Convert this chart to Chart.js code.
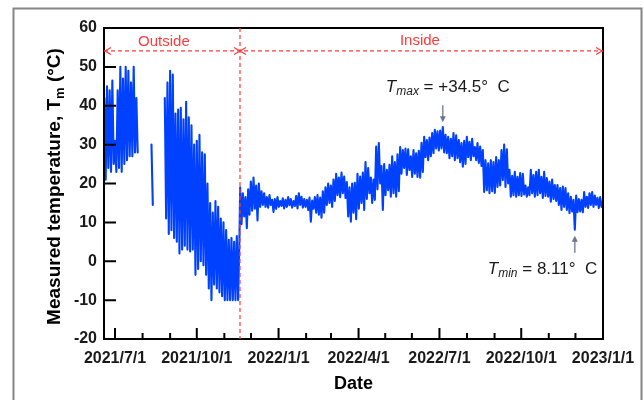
<!DOCTYPE html>
<html>
<head>
<meta charset="utf-8">
<script src="https://cdn.jsdelivr.net/npm/chart.js@4.4.0/dist/chart.umd.min.js"></script>
<style>
html,body{margin:0;padding:0;background:#fff;}
canvas{display:block;}
</style>
</head>
<body>
<canvas id="chart" width="644" height="400"></canvas>
<script>
// day numbers are counted from 2021/7/1 (= day 0)
const quarterDays = [0,92,184,274,365,457,549];
const quarterLabels = ['2021/7/1','2021/10/1','2022/1/1','2022/4/1','2022/7/1','2022/10/1','2023/1/1'];
const monthDays = [31,62,123,153,215,243,304,334,396,427,488,518];
const yTicks = [-20,-10,0,10,20,30,40,50,60];

// readings alternate high / low, one every 1.5 days
const stepDays = 1.5;
const outsideAStart = -12;
const outsideA = [42,21,45,24,44,23,46.5,25,31,23,44,24,50,23,47,25,50,26,49,27,46,27,50,28,42,28];
const spikeStart = 41;
const outsideSpike = [30,14.5];
const outsideBStart = 56;
const outsideB = [42,11,46,7,49,8,48,6,38,5,39,2,39.5,3,36.5,4,41,3,37,2.5,35,3,30,-3.5,31,-2,32.5,0,28,-1,
  27.5,-3.5,20,-7,15,-10,12.5,-6,15.5,-7,14,-8,11,-9,10,-10,8,-10,5.5,-10,6,-10,5,-10,6.5,-10,6];
const boundaryDay = 140.6; // sensor moved inside
const insideStart = 140.8;
const inside = [
  19,9.5, 17.5,11.5, 16.5,8.5, 18.5,12, 20.5,13, 21.5,13.5, 19.5,10.5, 20,14, 18,14.5, 17.5,14,
  16.5,13.8, 17,14.5, 15.8,12.7, 16,13.5, 16.5,14, 15.5,14.2, 16.2,13.6, 15.8,14, 16.5,14.4, 16,13.8,
  15.5,14.2, 16.8,13.6, 17.5,14.5, 16.6,13.8, 16,14, 15.8,13.2, 16.4,10.2, 15.6,13.5, 16.5,12.5, 17,12,
  16.4,11.2, 18,12.5, 19,14.5, 20,15, 19.5,14, 21,15.5, 22.5,17, 21.5,16.5, 22.8,17.5, 21.8,16.3,
  20.4,11.5, 19,10.2, 20,12.5, 20.2,10.8, 22.5,13.5, 21.8,15, 22.8,13.2, 25.5,16, 24,17.5, 21.5,15,
  21,15.8, 29.5,18.5, 30.4,20, 24.5,13.2, 25,17, 23.5,18.3, 24.8,16.6, 27,17.5, 25.5,16.6, 27.5,18,
  29.4,22.5, 28.6,24, 29,22.2, 28.8,23.5, 27,21.7, 28.6,22.5, 27.8,21.7, 28.4,21.5, 30.5,23, 32,26.8,
  31.2,26, 31.8,27, 33,27.8, 33.8,29, 33.4,28.5, 33.6,29, 34.5,28, 32.5,27.8, 32,26.5, 31.5,27,
  33,26, 32.4,26.5, 31.2,25.5, 30.4,24.3, 31,25, 32,26.8, 30.7,26, 31.5,27, 29.4,26, 30.4,25.3,
  29.5,24.5, 28.6,17.8, 26,18.3, 25.2,17.5, 26,18, 25.5,17.6, 26.8,19.1, 26,19.5, 28.6,20.9, 30,19.1,
  28.8,20, 23.5,16.6, 22,17, 23,16.6, 21.7,17, 22.7,16.8, 22.5,17.2, 19.5,16.6, 19,17, 23.5,17.5,
  22.2,16.6, 23,17, 23.5,17.5, 21.7,16.3, 23,16.8, 21.4,16.6, 20.5,15.3, 21,16, 19.6,15.5, 19.6,14.5,
  18.8,13.2, 19.2,14, 18.8,13.2, 17.5,12.4, 16.6,12.8, 15.8,8.1, 16.9,12.6, 16,12.8, 15.8,12.6, 17.8,14,
  16.6,13.7, 17.5,14.5, 17.8,14, 16.9,14.5, 16.3,13.7, 16.5,14, 15.5,14
];

document.addEventListener('DOMContentLoaded',()=>{

function toPoints(start, vals){
  return vals.map((v,i)=>({x:start+i*stepDays, y:v}));
}

const points = [].concat(
  toPoints(outsideAStart,outsideA), [{x:26.5,y:null}],
  toPoints(spikeStart,outsideSpike), [{x:43,y:null}],
  toPoints(outsideBStart,outsideB),
  toPoints(insideStart,inside)
);

const iMax = inside.indexOf(Math.max(...inside));
const iMin = inside.indexOf(Math.min(...inside));

const FONT = '"Liberation Sans", Arial, sans-serif';
const RED = '#ff3a3a';

function chevron(ctx, x, y, dir){
  ctx.beginPath();
  ctx.moveTo(x-dir*6, y-3.5); ctx.lineTo(x, y); ctx.lineTo(x-dir*6, y+3.5);
  ctx.stroke();
}

function arrow(ctx, x, y0, y1){ // tail y0, tip y1
  const dir = y1>y0 ? 1 : -1;
  ctx.beginPath(); ctx.moveTo(x,y0); ctx.lineTo(x,y1-dir*4); ctx.stroke();
  ctx.beginPath(); ctx.moveTo(x,y1); ctx.lineTo(x-3,y1-dir*6); ctx.lineTo(x+3,y1-dir*6); ctx.closePath(); ctx.fill();
}

function subText(ctx, x, y, main, sub, rest, size){
  ctx.font = 'italic '+size+'px '+FONT;
  ctx.fillText(main, x, y); x += ctx.measureText(main).width;
  ctx.font = 'italic '+Math.round(size*0.68)+'px '+FONT;
  ctx.fillText(sub, x, y+3); x += ctx.measureText(sub).width;
  ctx.font = size+'px '+FONT;
  ctx.fillText(rest, x, y);
}

const decor = {
  id:'decor',
  beforeDraw(chart){
    const ctx = chart.ctx;
    ctx.save(); ctx.fillStyle='#fff'; ctx.fillRect(0,0,chart.width,chart.height); ctx.restore();
  },
  afterDraw(chart){
    const {ctx, chartArea:a, scales:{x,y}} = chart;
    ctx.save();
    // plot box
    ctx.strokeStyle='#000'; ctx.lineWidth=2;
    ctx.strokeRect(a.left, a.top, a.right-a.left, a.bottom-a.top);
    // inward ticks
    ctx.beginPath();
    yTicks.forEach(v=>{ const py=y.getPixelForValue(v); ctx.moveTo(a.left,py); ctx.lineTo(a.left+12,py); });
    quarterDays.forEach(d=>{ const px=x.getPixelForValue(d); ctx.moveTo(px,a.bottom); ctx.lineTo(px,a.bottom-11); });
    monthDays.forEach(d=>{ const px=x.getPixelForValue(d); ctx.moveTo(px,a.bottom); ctx.lineTo(px,a.bottom-6); });
    ctx.stroke();

    // outside / inside marker
    const bx = x.getPixelForValue(boundaryDay);
    const ay = y.getPixelForValue(54.1);
    ctx.strokeStyle=RED; ctx.lineWidth=1.2; ctx.setLineDash([4,3]);
    ctx.beginPath(); ctx.moveTo(bx,a.top); ctx.lineTo(bx,a.bottom); ctx.stroke();
    ctx.beginPath(); ctx.moveTo(a.left,ay); ctx.lineTo(a.right,ay); ctx.stroke();
    ctx.setLineDash([]);
    chevron(ctx, a.left+1, ay, -1);
    chevron(ctx, bx, ay, 1);
    chevron(ctx, bx, ay, -1);
    chevron(ctx, a.right-1, ay, 1);
    ctx.fillStyle=RED; ctx.font='15px '+FONT; ctx.textAlign='center'; ctx.textBaseline='alphabetic';
    ctx.fillText('Outside', x.getPixelForValue(55), ay-5);
    ctx.fillText('Inside', x.getPixelForValue(343), ay-6);

    // Tmax / Tmin notes
    ctx.fillStyle='#6b7590'; ctx.strokeStyle='#6b7590'; ctx.lineWidth=1.3;
    const mx = x.getPixelForValue(insideStart+iMax*stepDays), my = y.getPixelForValue(inside[iMax]);
    arrow(ctx, mx, my-22, my-5);
    const nx = x.getPixelForValue(insideStart+iMin*stepDays), ny = y.getPixelForValue(inside[iMin]);
    arrow(ctx, nx, ny+23, ny+6);
    ctx.fillStyle='#1a1a1a'; ctx.textAlign='left';
    subText(ctx, mx-57, my-35, 'T', 'max', ' = +34.5\u00b0  C', 17);
    subText(ctx, nx-87, ny+44, 'T', 'min', ' = 8.11\u00b0  C', 17);

    // axis titles
    ctx.fillStyle='#000';
    ctx.font='bold 18px '+FONT; ctx.textAlign='center';
    ctx.fillText('Date', (a.left+a.right)/2, 389);
    ctx.save();
    ctx.translate(60, 186.5); ctx.rotate(-Math.PI/2);
    const p1='Measured temperature, T', p2='m', p3=' (\u00b0C)';
    ctx.font='bold 19px '+FONT; const w1=ctx.measureText(p1).width, w3=ctx.measureText(p3).width;
    ctx.font='bold 13px '+FONT; const w2=ctx.measureText(p2).width;
    let tx = -(w1+w2+w3)/2;
    ctx.textAlign='left';
    ctx.font='bold 19px '+FONT; ctx.fillText(p1, tx, 0); tx+=w1;
    ctx.font='bold 13px '+FONT; ctx.fillText(p2, tx, 4); tx+=w2;
    ctx.font='bold 19px '+FONT; ctx.fillText(p3, tx, 0);
    ctx.restore();

    // outer frame
    ctx.strokeStyle='#858585'; ctx.lineWidth=2;
    ctx.strokeRect(13.5, 8.5, 628, 400);
    ctx.restore();
  }
};

new Chart(document.getElementById('chart'), {
  type:'line',
  data:{datasets:[{data:points, borderColor:'#0040ff', borderWidth:2.1, borderJoinStyle:'round', borderCapStyle:'round',
    pointRadius:0, tension:0, spanGaps:false}]},
  options:{
    responsive:false, animation:false,
    layout:{padding:{top:28, right:41, left:0, bottom:0}},
    plugins:{legend:{display:false}, tooltip:{enabled:false}},
    scales:{
      x:{
        type:'linear', min:-12.4, max:549,
        grid:{display:false, drawTicks:false}, border:{display:false},
        afterBuildTicks:s=>{ s.ticks = quarterDays.map(v=>({value:v})); },
        afterFit:s=>{ s.height=61; s.paddingLeft=0; s.paddingRight=0; },
        ticks:{autoSkip:false, maxRotation:0, padding:10, color:'#1a1a1a',
          font:{family:FONT, size:16, weight:'bold'},
          callback:v=>{ const i=quarterDays.indexOf(v); return i>=0 ? quarterLabels[i] : ''; }}
      },
      y:{
        min:-20, max:60,
        grid:{display:false, drawTicks:false}, border:{display:false},
        afterFit:s=>{ s.width=104; s.paddingTop=0; s.paddingBottom=0; },
        ticks:{stepSize:10, padding:7, color:'#1a1a1a', font:{family:FONT, size:16, weight:'bold'}}
      }
    }
  },
  plugins:[decor]
});

});
</script>
</body>
</html>
